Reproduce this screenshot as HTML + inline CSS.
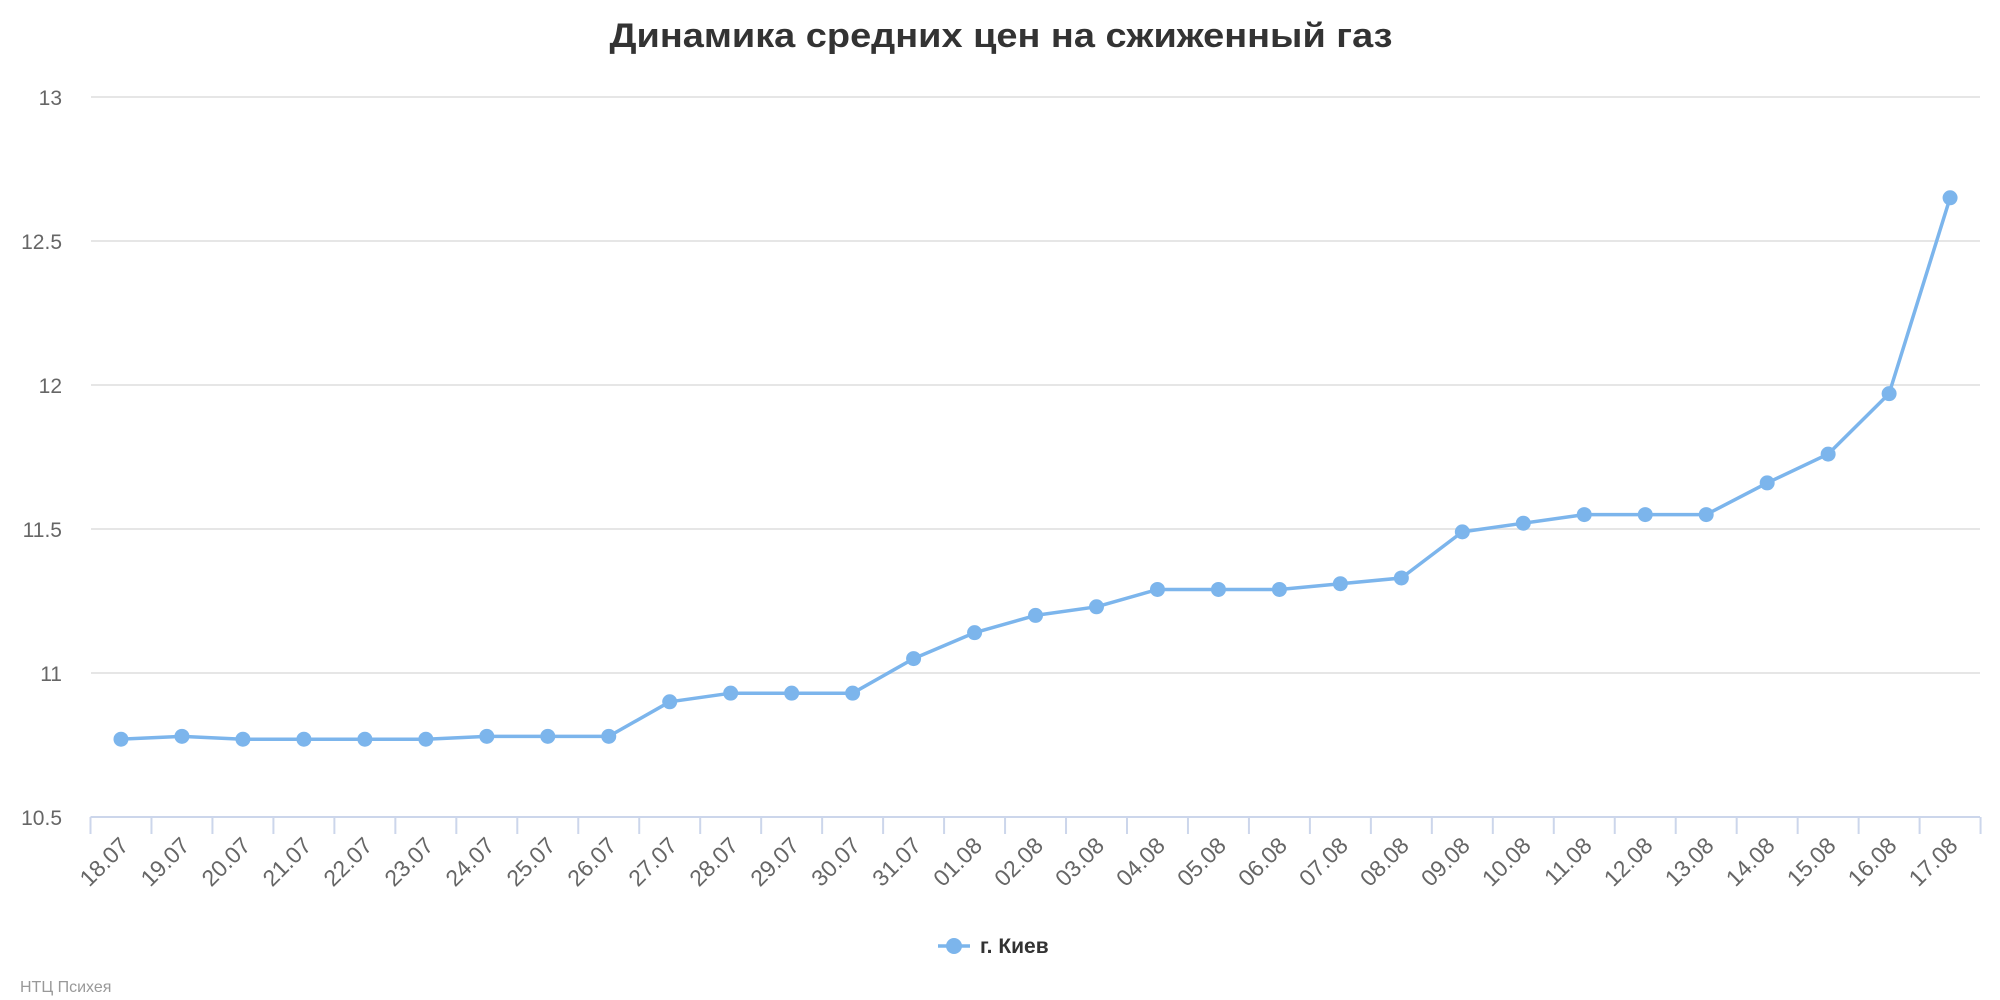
<!DOCTYPE html>
<html><head><meta charset="utf-8"><style>
html,body{margin:0;padding:0;background:#fff;}
svg{display:block;font-family:"Liberation Sans","DejaVu Sans",sans-serif;}
</style></head><body>
<svg width="2000" height="1000" xmlns="http://www.w3.org/2000/svg">
<text x="1001" y="47" text-anchor="middle" font-size="34" font-weight="bold" fill="#333" textLength="783" lengthAdjust="spacingAndGlyphs">Динамика средних цен на сжиженный газ</text>
<g stroke="#e6e6e6" stroke-width="2">
<line x1="91" y1="97" x2="1980" y2="97"/>
<line x1="91" y1="241" x2="1980" y2="241"/>
<line x1="91" y1="385" x2="1980" y2="385"/>
<line x1="91" y1="529" x2="1980" y2="529"/>
<line x1="91" y1="673" x2="1980" y2="673"/>
</g>
<g font-size="21" fill="#666" text-anchor="end">
<text x="62" y="105">13</text>
<text x="62" y="249">12.5</text>
<text x="62" y="393">12</text>
<text x="62" y="537">11.5</text>
<text x="62" y="681">11</text>
<text x="62" y="825">10.5</text>
</g>
<g id="ax"></g>
<g id="lbl" font-size="23" fill="#666" text-anchor="end"></g>
<polyline id="ln" fill="none" stroke="#7cb5ec" stroke-width="3.5" stroke-linejoin="round"/>
<g id="pts" fill="#7cb5ec"></g>
<line x1="938" y1="946" x2="970" y2="946" stroke="#7cb5ec" stroke-width="3.5"/>
<circle cx="954" cy="946" r="8" fill="#7cb5ec"/>
<text x="980" y="953" font-size="21" font-weight="bold" fill="#333">г. Киев</text>
<text x="20" y="992" font-size="16" fill="#999">НТЦ Психея</text>
<script>
var d=[10.77,10.78,10.77,10.77,10.77,10.77,10.78,10.78,10.78,10.90,10.93,10.93,10.93,11.05,11.14,11.20,11.23,11.29,11.29,11.29,11.31,11.33,11.49,11.52,11.55,11.55,11.55,11.66,11.76,11.97,12.65];
var labs=["18.07","19.07","20.07","21.07","22.07","23.07","24.07","25.07","26.07","27.07","28.07","29.07","30.07","31.07","01.08","02.08","03.08","04.08","05.08","06.08","07.08","08.08","09.08","10.08","11.08","12.08","13.08","14.08","15.08","16.08","17.08"];
var ns="http://www.w3.org/2000/svg",w=60.97,x0=90.5;
var ax=document.getElementById('ax'),pts=document.getElementById('pts'),lbl=document.getElementById('lbl');
function el(t,a,p){var e=document.createElementNS(ns,t);for(var k in a)e.setAttribute(k,a[k]);p.appendChild(e);return e;}
el('line',{x1:x0,y1:817,x2:1980,y2:817,stroke:'#ccd6eb','stroke-width':2},ax);
var P=[];
for(var i=0;i<=31;i++)el('line',{x1:x0+w*i,y1:817,x2:x0+w*i,y2:834,stroke:'#ccd6eb','stroke-width':2},ax);
for(var i=0;i<31;i++){var x=x0+w*(i+0.5),y=817-(d[i]-10.5)*288;P.push(x.toFixed(1)+','+y.toFixed(1));
el('circle',{cx:x,cy:y,r:7.5},pts);
var lx=x+9,ly=847;
var t=el('text',{x:lx,y:ly,transform:'rotate(-45 '+lx+' '+ly+')'},lbl);t.textContent=labs[i];}
document.getElementById('ln').setAttribute('points',P.join(' '));
</script>
</svg>
</body></html>
